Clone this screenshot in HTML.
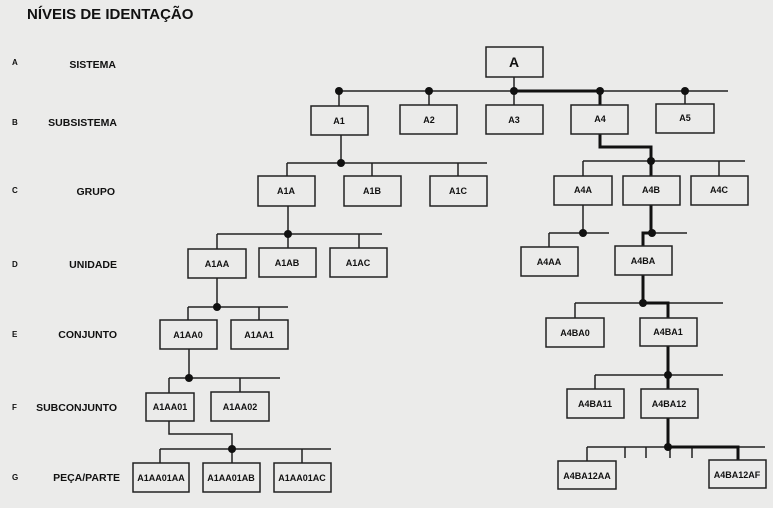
<!DOCTYPE html>
<html><head><meta charset="utf-8"><style>
html,body{margin:0;padding:0;background:#ebebea;}
svg{display:block;}
text{font-family:"Liberation Sans",Arial,sans-serif;font-weight:bold;fill:#111;}
</style></head><body>
<svg width="773" height="508" viewBox="0 0 773 508" xmlns="http://www.w3.org/2000/svg">
<rect width="773" height="508" fill="#ebebea"/>
<text x="27" y="19" font-size="15">NÍVEIS DE IDENTAÇÃO</text>
<g font-size="8">
<text x="12" y="65">A</text><text x="12" y="125">B</text><text x="12" y="193">C</text>
<text x="12" y="267">D</text><text x="12" y="337">E</text><text x="12" y="410">F</text><text x="12" y="480">G</text>
</g>
<g font-size="10.5" text-anchor="end">
<text x="116" y="68">SISTEMA</text><text x="117" y="126">SUBSISTEMA</text>
<text x="115" y="195">GRUPO</text><text x="117" y="268">UNIDADE</text>
<text x="117" y="338">CONJUNTO</text><text x="117" y="411">SUBCONJUNTO</text>
<text x="120" y="481">PEÇA/PARTE</text>
</g>
<g stroke="#222" stroke-width="1.5" fill="none">
<line x1="339" y1="91" x2="728" y2="91"/>
<line x1="514" y1="77" x2="514" y2="106"/>
<line x1="339" y1="91" x2="339" y2="106"/>
<line x1="429" y1="91" x2="429" y2="106"/>
<line x1="685" y1="91" x2="685" y2="106"/>
<line x1="341" y1="135" x2="341" y2="163"/>
<line x1="287" y1="163" x2="487" y2="163"/>
<line x1="287" y1="163" x2="287" y2="176"/>
<line x1="372" y1="163" x2="372" y2="176"/>
<line x1="458" y1="163" x2="458" y2="176"/>
<line x1="583" y1="161" x2="745" y2="161"/>
<line x1="583" y1="161" x2="583" y2="176"/>
<line x1="719" y1="161" x2="719" y2="176"/>
<line x1="288" y1="206" x2="288" y2="249"/>
<line x1="217" y1="234" x2="382" y2="234"/>
<line x1="217" y1="234" x2="217" y2="249"/>
<line x1="359" y1="234" x2="359" y2="248"/>
<line x1="217" y1="278" x2="217" y2="307"/>
<line x1="188" y1="307" x2="288" y2="307"/>
<line x1="188" y1="307" x2="188" y2="320"/>
<line x1="259" y1="307" x2="259" y2="320"/>
<line x1="189" y1="349" x2="189" y2="378"/>
<line x1="169" y1="378" x2="280" y2="378"/>
<line x1="169" y1="378" x2="169" y2="393"/>
<line x1="240" y1="378" x2="240" y2="392"/>
<polyline points="169,421 169,434 232,434 232,463"/>
<line x1="160" y1="449" x2="331" y2="449"/>
<line x1="160" y1="449" x2="160" y2="463"/>
<line x1="302" y1="449" x2="302" y2="463"/>
<line x1="583" y1="205" x2="583" y2="233"/>
<line x1="549" y1="233" x2="609" y2="233"/>
<line x1="549" y1="233" x2="549" y2="247"/>
<line x1="652" y1="233" x2="687" y2="233"/>
<line x1="575" y1="303" x2="723" y2="303"/>
<line x1="575" y1="303" x2="575" y2="318"/>
<line x1="595" y1="375" x2="723" y2="375"/>
<line x1="595" y1="375" x2="595" y2="389"/>
<line x1="587" y1="447" x2="765" y2="447"/>
<line x1="587" y1="447" x2="587" y2="461"/>
<line x1="625" y1="447" x2="625" y2="458"/>
<line x1="646" y1="447" x2="646" y2="458"/>
<line x1="670" y1="447" x2="670" y2="458"/>
<line x1="692" y1="447" x2="692" y2="458"/>
</g>
<g stroke="#111" stroke-width="3" fill="none">
<line x1="514" y1="91" x2="600" y2="91"/>
<line x1="600" y1="91" x2="600" y2="105"/>
<polyline points="600,134 600,147 651,147 651,176"/>
<polyline points="651,205 651,233 643,233 643,246"/>
<polyline points="643,275 643,303 668,303 668,318"/>
<line x1="668" y1="346" x2="668" y2="389"/>
<line x1="668" y1="418" x2="668" y2="447"/>
<polyline points="668,447 738,447 738,460"/>
</g>
<g fill="#111">
<circle cx="339" cy="91" r="4"/><circle cx="429" cy="91" r="4"/><circle cx="514" cy="91" r="4"/>
<circle cx="600" cy="91" r="4"/><circle cx="685" cy="91" r="4"/>
<circle cx="341" cy="163" r="4"/><circle cx="651" cy="161" r="4"/>
<circle cx="288" cy="234" r="4"/><circle cx="217" cy="307" r="4"/><circle cx="189" cy="378" r="4"/>
<circle cx="232" cy="449" r="4"/>
<circle cx="583" cy="233" r="4"/><circle cx="652" cy="233" r="4"/>
<circle cx="643" cy="303" r="4"/><circle cx="668" cy="375" r="4"/><circle cx="668" cy="447" r="4"/>
</g>
<g stroke="#222" stroke-width="1.5" fill="#ebebea">
<rect x="486" y="47" width="57" height="30"/>
<rect x="311" y="106" width="57" height="29"/><rect x="400" y="105" width="57" height="29"/>
<rect x="486" y="105" width="57" height="29"/><rect x="571" y="105" width="57" height="29"/>
<rect x="656" y="104" width="58" height="29"/>
<rect x="258" y="176" width="57" height="30"/><rect x="344" y="176" width="57" height="30"/>
<rect x="430" y="176" width="57" height="30"/>
<rect x="554" y="176" width="58" height="29"/><rect x="623" y="176" width="57" height="29"/>
<rect x="691" y="176" width="57" height="29"/>
<rect x="188" y="249" width="58" height="29"/><rect x="259" y="248" width="57" height="29"/>
<rect x="330" y="248" width="57" height="29"/>
<rect x="521" y="247" width="57" height="29"/><rect x="615" y="246" width="57" height="29"/>
<rect x="160" y="320" width="57" height="29"/><rect x="231" y="320" width="57" height="29"/>
<rect x="546" y="318" width="58" height="29"/><rect x="640" y="318" width="57" height="28"/>
<rect x="146" y="393" width="48" height="28"/><rect x="211" y="392" width="58" height="29"/>
<rect x="567" y="389" width="57" height="29"/><rect x="641" y="389" width="57" height="29"/>
<rect x="133" y="463" width="56" height="29"/><rect x="203" y="463" width="57" height="29"/>
<rect x="274" y="463" width="57" height="29"/>
<rect x="558" y="461" width="58" height="28"/><rect x="709" y="460" width="57" height="28"/>
</g>
<g font-size="9" text-anchor="middle">
<text x="514" y="67" font-size="14">A</text>
<text x="339" y="124">A1</text><text x="429" y="123">A2</text><text x="514" y="123">A3</text>
<text x="600" y="122">A4</text><text x="685" y="121">A5</text>
<text x="286" y="194">A1A</text><text x="372" y="194">A1B</text><text x="458" y="194">A1C</text>
<text x="583" y="193">A4A</text><text x="651" y="193">A4B</text><text x="719" y="193">A4C</text>
<text x="217" y="267">A1AA</text><text x="287" y="266">A1AB</text><text x="358" y="266">A1AC</text>
<text x="549" y="265">A4AA</text><text x="643" y="264">A4BA</text>
<text x="188" y="338">A1AA0</text><text x="259" y="338">A1AA1</text>
<text x="575" y="336">A4BA0</text><text x="668" y="335">A4BA1</text>
<text x="170" y="410">A1AA01</text><text x="240" y="410">A1AA02</text>
<text x="595" y="407">A4BA11</text><text x="669" y="407">A4BA12</text>
<text x="161" y="481" font-weight="normal">A1AA01AA</text><text x="231" y="481">A1AA01AB</text>
<text x="302" y="481">A1AA01AC</text>
<text x="587" y="479">A4BA12AA</text><text x="737" y="478">A4BA12AF</text>
</g>
</svg>
</body></html>
